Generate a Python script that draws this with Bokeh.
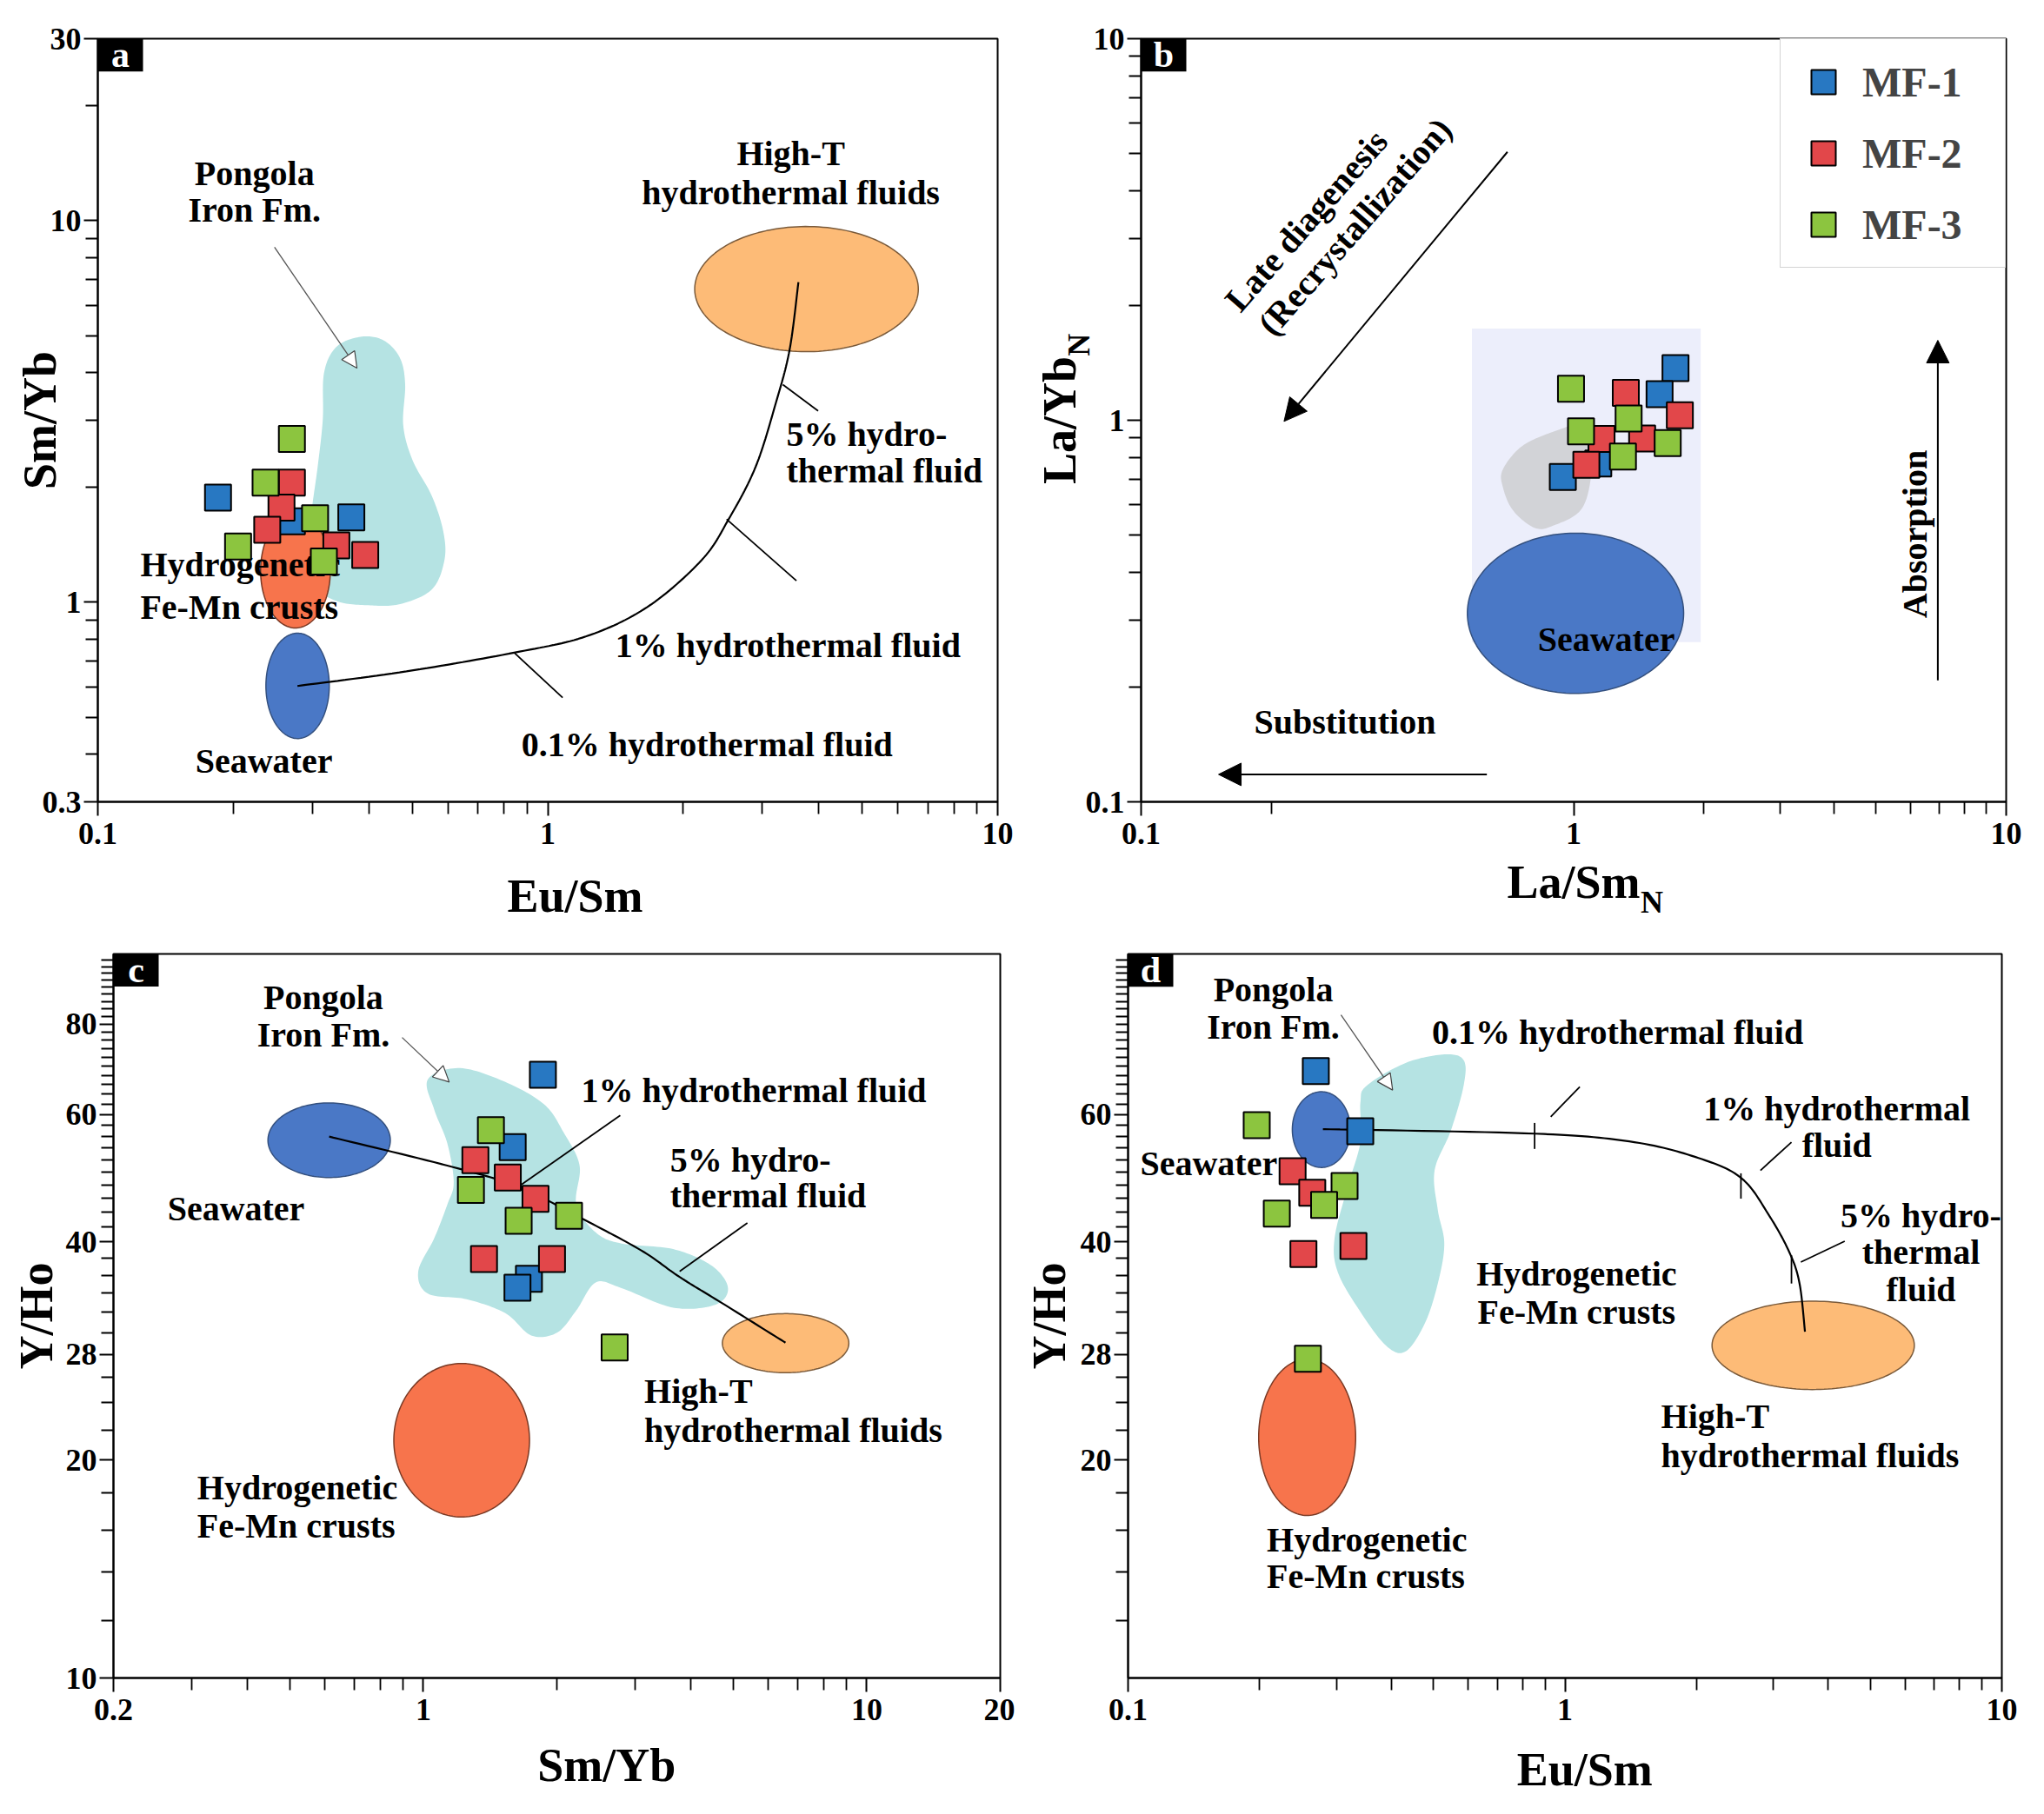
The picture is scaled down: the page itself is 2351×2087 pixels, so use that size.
import numpy as np
from bokeh.plotting import figure
from bokeh.layouts import column, row
from bokeh.models import (Range1d, FixedTicker, CustomJSTickFormatter, Label, Arrow, NormalHead, LogAxis)
from bokeh.core.properties import value
from bokeh.embed import file_html
from bokeh.resources import INLINE

FONT = "Liberation Serif"
SERIES = ["MF-1", "MF-2", "MF-3"]
COLORS = ["#2878c2", "#e2474a", "#8cc53f"]

# ---------------- data ----------------
# Panel a: Eu/Sm (x) vs Sm/Yb (y)
a_mf1_x = [0.185, 0.27, 0.366]
a_mf1_y = [1.88, 1.63, 1.67]
a_mf2_x = [0.27, 0.256, 0.238, 0.339, 0.393]
a_mf2_y = [2.06, 1.77, 1.55, 1.41, 1.33]
a_mf3_x = [0.27, 0.236, 0.304, 0.205, 0.318]
a_mf3_y = [2.68, 2.06, 1.66, 1.40, 1.28]

# Panel b: La/Sm_N (x) vs La/Yb_N (y)
b_mf1_x = [1.72, 1.58, 1.14, 0.944]
b_mf1_y = [1.37, 1.17, 0.77, 0.71]
b_mf2_x = [1.32, 1.76, 1.16, 1.44, 1.07]
b_mf2_y = [1.18, 1.03, 0.893, 0.896, 0.764]
b_mf3_x = [0.986, 1.34, 1.04, 1.65, 1.30]
b_mf3_y = [1.21, 1.01, 0.935, 0.871, 0.803]

# Panel c: Sm/Yb (x) vs Y/Ho (y)
c_mf1_x = [1.86, 1.59, 1.73, 1.63]
c_mf1_y = [68.1, 54.1, 35.6, 34.6]
c_mf2_x = [1.31, 1.55, 1.79, 1.37, 1.95]
c_mf2_y = [51.9, 49.1, 45.9, 37.9, 37.9]
c_mf3_x = [1.42, 1.28, 1.64, 2.13, 2.70]
c_mf3_y = [57.1, 47.2, 42.8, 43.5, 28.6]

# Panel d: Eu/Sm (x) vs Y/Ho (y)
d_mf1_x = [0.269, 0.340]
d_mf1_y = [68.9, 56.9]
d_mf2_x = [0.238, 0.264, 0.328, 0.252]
d_mf2_y = [50.1, 46.8, 39.5, 38.5]
d_mf3_x = [0.197, 0.313, 0.281, 0.219, 0.258]
d_mf3_y = [58.0, 47.8, 45.0, 43.8, 27.6]

# tick labels
a_xticks = [0.1, 1, 10]
a_yticks = [0.3, 1, 10, 30]
b_xticks = [0.1, 1, 10]
b_yticks = [0.1, 1, 10]
c_xticks = [0.2, 1, 10, 20]
c_yticks = [10, 20, 28, 40, 60, 80]
d_xticks = [0.1, 1, 10]
d_yticks = [20, 28, 40, 60]

# ---------------- reference fields (log10 units) ----------------
a_pongola_lx = [-0.4127, -0.3634, -0.3282, -0.3169, -0.3211, -0.3000, -0.2577, -0.2324, -0.2296, -0.2577,
                -0.3282, -0.3986, -0.4690, -0.5254, -0.5324, -0.5254, -0.5113, -0.5000, -0.4972, -0.4690]
a_pongola_ly = [0.6963, 0.6856, 0.6396, 0.5706, 0.4632, 0.3712, 0.2791, 0.1871, 0.1104, 0.0337,
                -0.0046, -0.0077, 0.0031, 0.0491, 0.1258, 0.2331, 0.3558, 0.4785, 0.6012, 0.6702]
a_curve_lx = [-0.5563, -0.314, -0.0746, 0.0858, 0.2214, 0.3419, 0.4021, 0.4623, 0.5075, 0.5377, 0.5572]
a_curve_ly = [-0.2193, -0.181, -0.1319, -0.089, -0.0123, 0.1104, 0.2178, 0.3558, 0.5245, 0.6626, 0.839]

b_rect = [0.582, 1.967, 0.262, 1.74]
b_gray_lx = [-0.1637, -0.119, -0.0446, 0.0155, 0.0386, 0.0386, 0.0155, -0.0446, -0.089, -0.140, -0.1637]
b_gray_ly = [-0.129, -0.0676, -0.0292, -0.0138, -0.0676, -0.160, -0.2366, -0.275, -0.2826, -0.2366, -0.175]

c_pongola_lx = [0.0102, 0.0830, 0.1849, 0.2722, 0.3159, 0.3523, 0.3450, 0.3886, 0.4469, 0.5633, 0.6507,
                0.6870, 0.6579, 0.5633, 0.4469, 0.3886, 0.3450, 0.3013, 0.2431, 0.1849, 0.0975, 0.0102,
                -0.0116, 0.0247, 0.0539, 0.0684, 0.0539, 0.0247]
c_pongola_ly = [1.8269, 1.8423, 1.8231, 1.7923, 1.7538, 1.7077, 1.6538, 1.6154, 1.6000, 1.5923, 1.5692,
                1.5385, 1.5154, 1.5115, 1.5385, 1.5462, 1.5077, 1.4769, 1.4731, 1.5038, 1.5231, 1.5308,
                1.5615, 1.6077, 1.6538, 1.6846, 1.7385, 1.7846]
c_curve_lx = [-0.2125, 0.0539, 0.2140, 0.3450, 0.4905, 0.5779, 0.6798, 0.8166]
c_curve_ly = [1.7477, 1.7077, 1.6785, 1.6385, 1.5908, 1.5538, 1.5154, 1.4631]

d_pongola_lx = [-0.4535, -0.3648, -0.2762, -0.2319, -0.2319, -0.2614, -0.2984, -0.2910, -0.2762, -0.2910,
                -0.3205, -0.3648, -0.4092, -0.4682, -0.5199, -0.5273, -0.4978, -0.4682, -0.4682]
d_pongola_ly = [1.8182, 1.8494, 1.8612, 1.8533, 1.8182, 1.7557, 1.7010, 1.6463, 1.5994, 1.5448,
                1.4901, 1.4510, 1.4588, 1.5057, 1.5604, 1.6073, 1.6776, 1.7401, 1.7948]
d_curve_lx = [-0.554, -0.0694, 0.159, 0.3133, 0.4059, 0.4676, 0.5139, 0.537, 0.5494]
d_curve_ly = [1.758, 1.7518, 1.74, 1.7166, 1.6893, 1.6385, 1.5877, 1.5448, 1.4783]

SEA = ("#4a78c6", "#34507e")
HYD = ("#f7744c", "#7a3a25")
HIT = ("#fdbb77", "#7a5a3a")
PON = "#b5e3e3"


def smooth(lx, ly, closed=False, n=16):
    P = np.column_stack([lx, ly]).astype(float)
    Q = np.vstack([P[-1], P, P[0], P[1]]) if closed else np.vstack([P[0], P, P[-1]])
    out = []
    for i in range(1, len(Q) - 2):
        p0, p1, p2, p3 = Q[i - 1], Q[i], Q[i + 1], Q[i + 2]
        for t in np.linspace(0, 1, n, endpoint=False):
            out.append(0.5 * (2 * p1 + (-p0 + p2) * t + (2 * p0 - 5 * p1 + 4 * p2 - p3) * t * t
                              + (-p0 + 3 * p1 - 3 * p2 + p3) * t ** 3))
    if not closed:
        out.append(P[-1])
    out = np.array(out)
    return list(10 ** out[:, 0]), list(10 ** out[:, 1])


def ell(p, c, r, col):
    t = np.linspace(0, 2 * np.pi, 160)
    lx = np.log10(c[0]) + r[0] * np.cos(t)
    ly = np.log10(c[1]) + r[1] * np.sin(t)
    p.patch(list(10 ** lx), list(10 ** ly), fill_color=col[0], line_color=col[1], line_width=1.5)


def txt(p, x, y, s, align="center", angle=0.0, size="40px", color="black"):
    p.text(x=[x], y=[y], text=[s], text_font=value(FONT), text_font_style="bold",
           text_font_size=value(size), text_align=align, text_baseline="middle",
           angle=angle, text_color=color)


def seg(p, lx0, ly0, lx1, ly1, color="black", w=1.8):
    p.line([10 ** lx0, 10 ** lx1], [10 ** ly0, 10 ** ly1], line_color=color, line_width=w)


def side_label(p, place, x, y, s, xo=0, yo=0, angle=0.0, size="54px"):
    # labels kept in a side panel are not clipped to the plot frame
    p.add_layout(Label(x=x, y=y, x_offset=xo, y_offset=yo, text=s, angle=angle,
                       text_font=FONT, text_font_style="bold", text_font_size=size,
                       text_align="center", text_baseline="middle", text_color="black"), place)


def style_axis(ax, maj, mn, standoff):
    ax.ticker = FixedTicker(ticks=maj, minor_ticks=mn)
    ax.formatter = CustomJSTickFormatter(code="return String(tick)")
    ax.axis_line_width = 2
    ax.axis_line_color = "black"
    ax.major_tick_line_width = 2
    ax.minor_tick_line_width = 1.8
    ax.major_tick_line_color = "black"
    ax.minor_tick_line_color = "black"
    ax.major_tick_out = 16
    ax.major_tick_in = 0
    ax.minor_tick_out = 14
    ax.minor_tick_in = 0
    ax.major_label_standoff = standoff
    ax.major_label_text_font = FONT
    ax.major_label_text_font_style = "bold"
    ax.major_label_text_font_size = "36px"
    ax.major_label_text_color = "black"
    ax.axis_label_text_font = FONT
    ax.axis_label_text_font_style = "bold"
    ax.axis_label_text_font_size = "54px"
    ax.axis_label_text_color = "black"


def make_fig(xr, yr, w, h, bl, br, bt, bb, xmaj, xmin, ymaj, ymin, ylabel, ys):
    p = figure(width=w, height=h, x_axis_type="log", y_axis_type="log",
               x_range=Range1d(*xr), y_range=Range1d(*yr), output_backend="svg",
               toolbar_location=None, min_border_left=bl, min_border_right=br,
               min_border_top=bt, min_border_bottom=bb)
    p.xgrid.visible = False
    p.ygrid.visible = False
    p.outline_line_color = "black"
    p.outline_line_width = 2
    p.outline_line_alpha = 1
    p.background_fill_color = "white"
    p.border_fill_color = "white"
    style_axis(p.xaxis[0], xmaj, xmin, 8)
    style_axis(p.yaxis[0], ymaj, ymin, 3)
    p.yaxis[0].axis_label = ylabel
    p.yaxis[0].axis_label_standoff = ys
    return p


def tag(p, letter, xr, yr, fw, fh):
    lx0, lx1 = np.log10(xr)
    ly0, ly1 = np.log10(yr)
    bx = 10 ** (lx0 + 52 * (lx1 - lx0) / fw)
    by = 10 ** (ly1 - 38 * (ly1 - ly0) / fh)
    p.quad(left=[xr[0]], right=[bx], bottom=[by], top=[yr[1]], fill_color="black", line_color=None)
    txt(p, float(np.sqrt(xr[0] * bx)), float(np.sqrt(by * yr[1])), letter, size="42px", color="white")


def squares(p, xs, ys, legend=False):
    for (x, y), col, name in zip(zip(xs, ys), COLORS, SERIES):
        kw = dict(legend_label=name) if legend else {}
        p.scatter(x, y, marker="square", size=30, fill_color=col, line_color="black", line_width=2, **kw)


dec = [2, 3, 4, 5, 6, 7, 8, 9]
sub = [0.2, 0.3, 0.4, 0.5, 0.6, 0.7, 0.8, 0.9]
yho_minor = [12, 14, 16, 18, 22, 24, 26, 30, 32, 34, 36, 38] + list(range(42, 60, 2)) + \
    list(range(62, 80, 2)) + list(range(82, 100, 2))

# ---------------- panel a ----------------
axr, ayr = (0.1, 10), (0.3, 30)
pa = make_fig(axr, ayr, 1167, 1060, 112, 20, 37, 138, a_xticks, sub + dec,
              a_yticks, [0.4, 0.5, 0.6, 0.7, 0.8, 0.9] + dec + [20], "Sm/Yb", -30)
pa.patch(*smooth(a_pongola_lx, a_pongola_ly, closed=True), fill_color=PON, line_color=None)
ell(pa, (3.76, 6.62), (0.2485, 0.164), HIT)
ell(pa, (0.278, 0.604), (0.0704, 0.138), SEA)
ell(pa, (0.275, 1.21), (0.0775, 0.150), HYD)
pa.line(*smooth(a_curve_lx, a_curve_ly), line_color="black", line_width=2.2)
seg(pa, -0.0746, -0.1319, 0.0331, -0.25)
seg(pa, 0.3976, 0.2178, 0.5527, 0.0567)
seg(pa, 0.5226, 0.5706, 0.601, 0.5015)
pa.add_layout(Arrow(end=NormalHead(size=18, fill_color="white", line_color="#444444", line_width=1.2),
                    x_start=0.247, y_start=8.53, x_end=0.3767, y_end=4.11,
                    line_color="#555555", line_width=1.3))
txt(pa, 0.223, 13.3, "Pongola")
txt(pa, 0.223, 10.66, "Iron Fm.")
txt(pa, 3.47, 15.0, "High-T")
txt(pa, 3.47, 11.85, "hydrothermal fluids")
txt(pa, 3.39, 2.755, "5% hydro-", align="left")
txt(pa, 3.39, 2.21, "thermal fluid", align="left")
txt(pa, 3.42, 0.773, "1% hydrothermal fluid")
txt(pa, 2.26, 0.424, "0.1% hydrothermal fluid")
txt(pa, 0.1243, 1.254, "Hydrogenetic", align="left")
txt(pa, 0.1243, 0.972, "Fe-Mn crusts", align="left")
txt(pa, 0.234, 0.384, "Seawater")
squares(pa, [a_mf1_x, a_mf2_x, a_mf3_x], [a_mf1_y, a_mf2_y, a_mf3_y])
tag(pa, "a", axr, ayr, 1035, 885)
side_label(pa, "below", 1.15, 0.3, "Eu/Sm", yo=-108)

# ---------------- panel b ----------------
bxr, byr = (0.1, 10), (0.1, 10)
pb = make_fig(bxr, byr, 1167, 1060, 145, 27, 44, 135, b_xticks, [0.2] + dec, b_yticks, sub + dec,
              "La/Yb", -3)
pb.quad(left=[b_rect[0]], right=[b_rect[1]], bottom=[b_rect[2]], top=[b_rect[3]],
        fill_color="#eceefb", line_color=None)
pb.patch(*smooth(b_gray_lx, b_gray_ly, closed=True), fill_color="#cfcfd3", line_color=None, fill_alpha=0.9)
ell(pb, (1.01, 0.312), (0.25, 0.21), SEA)
txt(pb, 1.19, 0.266, "Seawater")
pb.add_layout(Arrow(end=NormalHead(size=26, fill_color="black", line_color="black"),
                    x_start=0.703, y_start=5.05, x_end=0.214, y_end=0.993,
                    line_color="black", line_width=2))
pb.add_layout(Arrow(end=NormalHead(size=26, fill_color="black", line_color="black"),
                    x_start=0.63, y_start=0.118, x_end=0.151, y_end=0.118,
                    line_color="black", line_width=2))
pb.add_layout(Arrow(end=NormalHead(size=26, fill_color="black", line_color="black"),
                    x_start=6.95, y_start=0.208, x_end=6.95, y_end=1.62,
                    line_color="black", line_width=2))
ang = np.deg2rad(49)
txt(pb, 0.241, 3.34, "Late diagenesis", angle=ang)
txt(pb, 0.312, 3.22, "(Recrystallization)", angle=ang)
txt(pb, 0.296, 0.162, "Substitution")
txt(pb, 6.14, 0.503, "Absorption", angle=np.pi / 2)
squares(pb, [b_mf1_x, b_mf2_x, b_mf3_x], [b_mf1_y, b_mf2_y, b_mf3_y], legend=True)
tag(pb, "b", bxr, byr, 995, 881)
# x title "La/Sm" with subscript N: a second, bare axis carries the N as its only tick label
bx2 = LogAxis()
style_axis(bx2, [1.516], [], 44)
bx2.formatter = CustomJSTickFormatter(code="return 'N'")
bx2.axis_line_color = None
bx2.major_tick_line_color = None
bx2.minor_tick_line_color = None
bx2.major_tick_out = 0
bx2.minor_tick_out = 0
bx2.axis_label = "La/Sm"
bx2.axis_label_standoff = -76
pb.add_layout(bx2, "below")
side_label(pb, "above", 0.1, 1.576, "N", xo=-72, angle=np.pi / 2, size="36px")
lg = pb.legend[0]
lg.location = "top_right"
lg.margin = 0
lg.padding = 14
lg.spacing = 12
lg.glyph_width = 70
lg.glyph_height = 70
lg.label_height = 70
lg.label_width = 150
lg.label_standoff = 10
lg.label_text_font = FONT
lg.label_text_font_style = "bold"
lg.label_text_font_size = "48px"
lg.border_line_color = "#aaaaaa"
lg.border_line_width = 1.5
lg.background_fill_alpha = 1

# ---------------- panel c ----------------
cxr, cyr = (0.2, 20), (10, 100)
pc = make_fig(cxr, cyr, 1167, 1010, 130, 17, 37, 128, c_xticks, sub[1:] + dec, c_yticks, yho_minor,
              "Y/Ho", 1)
pc.patch(*smooth(c_pongola_lx, c_pongola_ly, closed=True), fill_color=PON, line_color=None)
ell(pc, (0.613, 55.3), (0.138, 0.0515), SEA)
ell(pc, (1.22, 21.3), (0.153, 0.106), HYD)
ell(pc, (6.56, 29.0), (0.1426, 0.0408), HIT)
pc.line(*smooth(c_curve_lx, c_curve_ly), line_color="black", line_width=2.2)
seg(pc, 0.2067, 1.6754, 0.444, 1.7769)
seg(pc, 0.5779, 1.5615, 0.7307, 1.6285)
pc.add_layout(Arrow(end=NormalHead(size=18, fill_color="white", line_color="#444444", line_width=1.2),
                    x_start=10 ** -0.048, y_start=10 ** 1.8846, x_end=10 ** 0.0582, y_end=10 ** 1.8231,
                    line_color="#555555", line_width=1.3))
txt(pc, 0.595, 87.1, "Pongola")
txt(pc, 0.595, 77.4, "Iron Fm.")
txt(pc, 0.378, 44.5, "Seawater")
txt(pc, 2.27, 64.8, "1% hydrothermal fluid", align="left")
txt(pc, 3.60, 51.9, "5% hydro-", align="left")
txt(pc, 3.60, 46.4, "thermal fluid", align="left")
txt(pc, 3.15, 24.9, "High-T", align="left")
txt(pc, 3.15, 22.0, "hydrothermal fluids", align="left")
txt(pc, 0.309, 18.3, "Hydrogenetic", align="left")
txt(pc, 0.309, 16.2, "Fe-Mn crusts", align="left")
squares(pc, [c_mf1_x, c_mf2_x, c_mf3_x], [c_mf1_y, c_mf2_y, c_mf3_y])
tag(pc, "c", cxr, cyr, 1020, 845)
side_label(pc, "below", 2.59, 10, "Sm/Yb", yo=-100)

# ---------------- panel d ----------------
dxr, dyr = (0.1, 10), (10, 100)
pd_ = make_fig(dxr, dyr, 1167, 1010, 130, 32, 34, 140, d_xticks, sub + dec, d_yticks,
               yho_minor + [80], "Y/Ho", 3)
pd_.patch(*smooth(d_pongola_lx, d_pongola_ly, closed=True), fill_color=PON, line_color=None)
ell(pd_, (0.277, 57.2), (0.0665, 0.0523), SEA)
ell(pd_, (0.257, 21.5), (0.111, 0.108), HYD)
ell(pd_, (3.70, 28.8), (0.2315, 0.061), HIT)
pd_.line(*smooth(d_curve_lx, d_curve_ly), line_color="black", line_width=2.2)
seg(pd_, -0.0694, 1.7666, -0.0694, 1.7307)
seg(pd_, 0.4028, 1.697, 0.4028, 1.662)
seg(pd_, 0.5185, 1.5838, 0.5185, 1.5448)
seg(pd_, -0.0325, 1.7752, 0.034, 1.8166)
seg(pd_, 0.4475, 1.701, 0.5185, 1.740)
seg(pd_, 0.540, 1.5744, 0.6404, 1.6033)
pd_.add_layout(Arrow(end=NormalHead(size=18, fill_color="white", line_color="#444444", line_width=1.2),
                     x_start=10 ** -0.5126, y_start=10 ** 1.9158, x_end=10 ** -0.3944, y_end=10 ** 1.812,
                     line_color="#555555", line_width=1.3))
txt(pd_, 0.215, 89.3, "Pongola")
txt(pd_, 0.215, 79.2, "Iron Fm.")
txt(pd_, 1.32, 78.0, "0.1% hydrothermal fluid")
txt(pd_, 4.19, 61.2, "1% hydrothermal")
txt(pd_, 4.19, 54.5, "fluid")
txt(pd_, 6.53, 43.5, "5% hydro-")
txt(pd_, 6.53, 38.7, "thermal")
txt(pd_, 6.53, 34.4, "fluid")
txt(pd_, 0.153, 51.3, "Seawater")
txt(pd_, 1.063, 36.2, "Hydrogenetic")
txt(pd_, 1.063, 32.0, "Fe-Mn crusts")
txt(pd_, 1.66, 23.0, "High-T", align="left")
txt(pd_, 1.66, 20.3, "hydrothermal fluids", align="left")
txt(pd_, 0.2078, 15.5, "Hydrogenetic", align="left")
txt(pd_, 0.2078, 13.8, "Fe-Mn crusts", align="left")
squares(pd_, [d_mf1_x, d_mf2_x, d_mf3_x], [d_mf1_y, d_mf2_y, d_mf3_y])
tag(pd_, "d", dxr, dyr, 1005, 836)
side_label(pd_, "below", 1.11, 10, "Eu/Sm", yo=-105)

layout = column(row(pa, pb), row(pc, pd_))
open("out.html", "w").write(file_html(layout, INLINE))
